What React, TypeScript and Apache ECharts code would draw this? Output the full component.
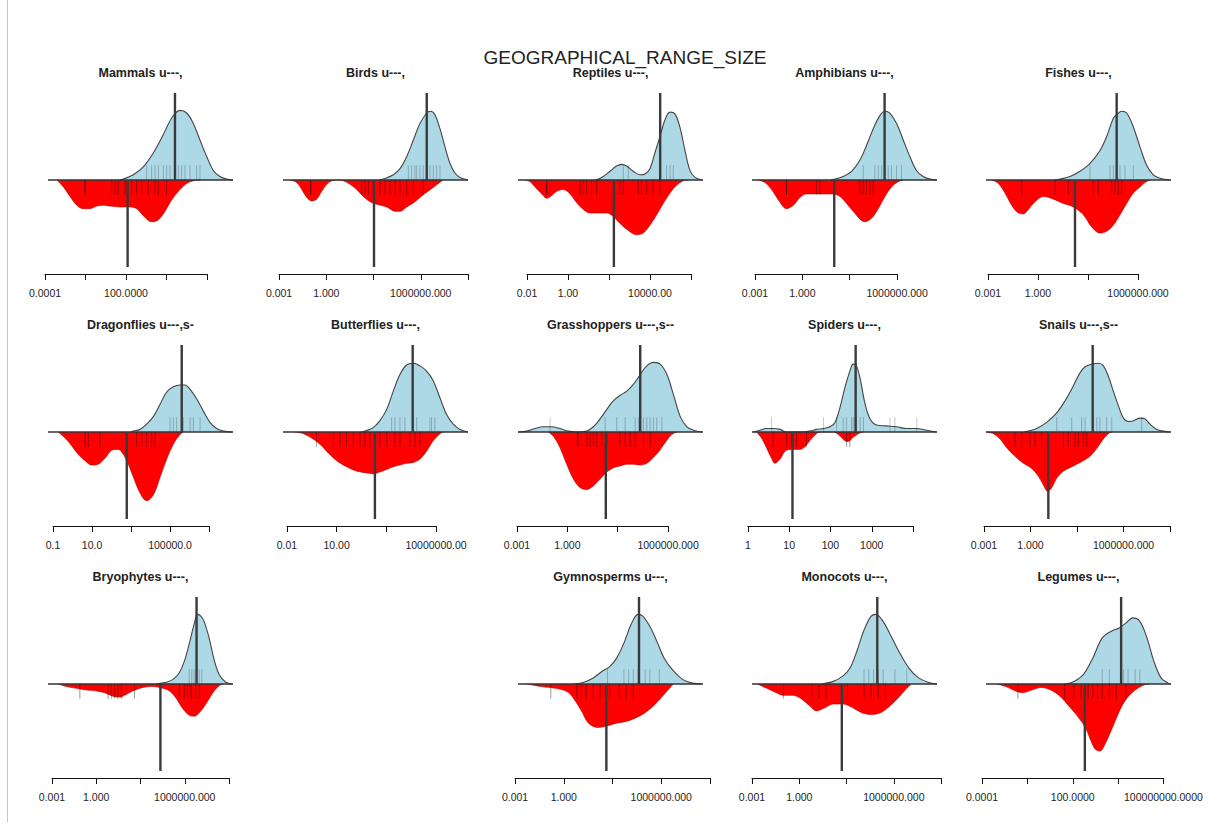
import React, { useEffect, useRef } from "react";
import * as echarts from "echarts";

type P = [number, number];

const mainTitle = "GEOGRAPHICAL_RANGE_SIZE";

// ---- density curves: [log10(range size), relative density] ----
const mammalsUpper: P[] = [[1.5,0],[1.8,0.01],[2.54,0.06],[3.28,0.15],[4.02,0.31],[4.76,0.52],[5.38,0.71],[6.0,0.8],[6.5,0.77],[6.99,0.65],[7.48,0.46],[7.98,0.27],[8.47,0.11],[8.96,0.04],[9.46,0.01],[9.93,0]];
const mammalsLower: P[] = [[-3.13,0],[-2.64,0.08],[-2.15,0.19],[-1.65,0.29],[-1.16,0.33],[-0.67,0.33],[-0.17,0.3],[0.32,0.29],[0.81,0.3],[1.56,0.31],[2.3,0.31],[2.79,0.33],[3.28,0.41],[3.9,0.48],[4.39,0.46],[4.89,0.36],[5.38,0.23],[6.0,0.11],[6.5,0.04],[6.99,0.01],[7.48,0]];
const mammalsRugUp = [3.53,3.9,4.15,4.4,4.77,5.01,5.26,5.88,6.12,6.37,6.74,7.23,7.48];
const mammalsRugLow = [-1.04,-1.04,0.94,1.19,1.43,1.93,2.42,2.79,3.16,3.65,4.15,4.4,5.01];

const birdsUpper: P[] = [[3.4,0],[3.62,0.01],[4.26,0.06],[4.68,0.13],[5.11,0.27],[5.53,0.46],[5.95,0.65],[6.38,0.77],[6.63,0.79],[6.9,0.75],[7.22,0.59],[7.54,0.38],[7.86,0.19],[8.17,0.08],[8.49,0.03],[9.0,0]];
const birdsLower: P[] = [[-2.3,0],[-1.88,0.03],[-1.56,0.11],[-1.24,0.2],[-0.93,0.24],[-0.61,0.22],[-0.29,0.13],[0.03,0.05],[0.34,0.01],[0.66,0],[1.08,0.01],[1.51,0.05],[1.93,0.11],[2.35,0.19],[2.78,0.25],[3.2,0.28],[3.84,0.31],[4.37,0.36],[4.68,0.36],[5.11,0.31],[5.63,0.25],[6.16,0.17],[6.69,0.1],[7.12,0.04],[7.43,0]];
const birdsRugUp = [5.21,5.42,5.63,5.74,5.95,6.16,6.38,6.59,6.8,7.01,7.22];
const birdsRugLow = [-0.99,-0.99,2.25,2.46,2.67,2.99,3.41,3.73,4.05,4.37,4.68,5.11,5.53,6.16];

const reptilesUpper: P[] = [[1.3,0],[1.48,0.01],[1.72,0.04],[2.05,0.1],[2.37,0.16],[2.62,0.18],[2.86,0.16],[3.19,0.1],[3.51,0.06],[3.76,0.07],[4.0,0.13],[4.24,0.31],[4.49,0.5],[4.73,0.69],[4.98,0.78],[5.22,0.76],[5.46,0.61],[5.71,0.34],[5.95,0.11],[6.2,0.03],[6.52,0]];
const reptilesLower: P[] = [[-2.1,0],[-1.85,0.02],[-1.61,0.08],[-1.28,0.16],[-1.04,0.21],[-0.8,0.18],[-0.55,0.13],[-0.23,0.11],[0.1,0.16],[0.42,0.26],[0.75,0.34],[1.07,0.38],[1.48,0.38],[1.89,0.38],[2.21,0.42],[2.54,0.5],[2.94,0.58],[3.35,0.63],[3.67,0.61],[4.0,0.52],[4.33,0.4],[4.65,0.27],[4.98,0.15],[5.3,0.06],[5.63,0.01],[5.87,0]];
const reptilesRugUp = [2.7,2.94,4.81,4.98,5.14];
const reptilesRugLow = [-1.04,-1.04,0.59,0.75,0.91,1.15,1.4,2.54,2.7,3.43,3.59,3.84,4.16,4.49];

const amphibiansUpper: P[] = [[1.8,0],[2.06,0.01],[2.59,0.04],[3.12,0.1],[3.65,0.23],[4.07,0.4],[4.49,0.59],[4.91,0.74],[5.23,0.79],[5.54,0.77],[5.97,0.65],[6.39,0.46],[6.81,0.27],[7.23,0.11],[7.65,0.04],[8.08,0.01],[8.5,0]];
const amphibiansLower: P[] = [[-2.79,0],[-2.37,0.03],[-1.95,0.11],[-1.52,0.23],[-1.0,0.33],[-0.57,0.29],[-0.15,0.2],[0.27,0.16],[0.9,0.16],[1.54,0.16],[1.96,0.16],[2.38,0.19],[2.8,0.27],[3.22,0.36],[3.65,0.45],[3.96,0.48],[4.38,0.44],[4.81,0.33],[5.23,0.19],[5.65,0.08],[6.07,0.02],[6.39,0]];
const amphibiansRugUp = [3.86,4.59,4.81,5.02,5.23,5.44,5.65,5.97,6.28];
const amphibiansRugLow = [-1.0,-1.0,0.9,1.11,3.65,3.86,4.07,4.28,4.49];

const fishesUpper: P[] = [[1.0,0],[1.32,0.01],[1.92,0.04],[2.52,0.1],[3.12,0.19],[3.72,0.34],[4.12,0.5],[4.52,0.71],[4.72,0.75],[5.02,0.79],[5.32,0.77],[5.72,0.61],[6.12,0.38],[6.52,0.17],[6.92,0.06],[7.32,0.02],[7.92,0]];
const fishesLower: P[] = [[-2.78,0],[-2.38,0.04],[-1.98,0.15],[-1.58,0.29],[-1.18,0.38],[-0.88,0.39],[-0.58,0.34],[-0.18,0.25],[0.32,0.19],[0.92,0.22],[1.52,0.27],[2.12,0.31],[2.72,0.4],[3.22,0.54],[3.72,0.61],[4.12,0.59],[4.52,0.52],[4.92,0.4],[5.32,0.27],[5.72,0.15],[6.12,0.08],[6.42,0.03],[6.72,0]];
const fishesRugUp = [3.12,4.32,4.52,4.72,4.92,5.22,5.72];
const fishesRugLow = [-0.98,-0.98,1.02,1.82,3.32,3.62,4.42,4.62,4.82,5.02];

const dragonfliesUpper: P[] = [[3.0,0],[3.12,0.01],[3.46,0.03],[3.8,0.09],[4.15,0.18],[4.49,0.32],[4.83,0.46],[5.17,0.52],[5.51,0.54],[5.77,0.54],[6.03,0.49],[6.37,0.38],[6.71,0.24],[7.05,0.11],[7.39,0.04],[7.74,0.01],[8.2,0]];
const dragonfliesLower: P[] = [[-0.73,0],[-0.38,0.07],[-0.04,0.16],[0.3,0.26],[0.64,0.33],[0.98,0.38],[1.32,0.37],[1.67,0.3],[2.01,0.21],[2.35,0.2],[2.61,0.26],[2.86,0.37],[3.12,0.52],[3.46,0.7],[3.8,0.79],[4.15,0.72],[4.49,0.52],[4.83,0.31],[5.17,0.14],[5.51,0.03],[5.68,0]];
const dragonfliesRugUp = [5.0,5.17,5.34,5.68,6.03,6.2,6.54];
const dragonfliesRugLow = [0.64,0.81,1.41,3.29,3.55,3.8,4.06,4.23];

const butterfliesUpper: P[] = [[2.5,0],[2.71,0.01],[3.21,0.05],[3.61,0.13],[4.02,0.26],[4.42,0.47],[4.82,0.66],[5.22,0.77],[5.63,0.79],[6.03,0.76],[6.43,0.7],[6.83,0.59],[7.24,0.39],[7.64,0.2],[8.04,0.09],[8.44,0.03],[8.93,0]];
const butterfliesLower: P[] = [[-1.52,0],[-1.01,0.02],[-0.51,0.07],[-0.01,0.14],[0.49,0.24],[1.0,0.33],[1.6,0.4],[2.21,0.45],[2.81,0.47],[3.21,0.48],[3.61,0.46],[4.02,0.43],[4.42,0.4],[4.82,0.38],[5.22,0.36],[5.63,0.35],[6.03,0.31],[6.43,0.22],[6.83,0.1],[7.24,0.02],[7.44,0]];
const butterfliesRugUp = [4.32,4.52,4.82,5.12,5.63,5.83,6.63,6.73,6.93];
const butterfliesRugLow = [-0.21,0.8,1.2,1.6,2.0,2.41,2.71,3.01,3.61,4.02,4.52,4.82,5.42,5.73,6.03];

const grasshoppersUpper: P[] = [[-2.92,0],[-2.42,0.01],[-1.93,0.04],[-1.43,0.06],[-0.93,0.06],[-0.44,0.04],[0.06,0.01],[0.76,0],[1.16,0.01],[1.55,0.06],[1.95,0.15],[2.35,0.26],[2.75,0.36],[3.14,0.42],[3.54,0.47],[3.94,0.55],[4.34,0.66],[4.73,0.76],[5.13,0.8],[5.53,0.78],[5.93,0.66],[6.32,0.43],[6.72,0.18],[7.12,0.06],[7.52,0.02],[8.01,0]];
const grasshoppersLower: P[] = [[-1.13,0],[-0.83,0.05],[-0.44,0.18],[-0.04,0.37],[0.36,0.54],[0.76,0.64],[1.16,0.66],[1.55,0.62],[1.95,0.54],[2.35,0.46],[2.75,0.41],[3.14,0.39],[3.54,0.37],[3.94,0.37],[4.34,0.38],[4.73,0.36],[5.03,0.31],[5.43,0.23],[5.83,0.12],[6.22,0.03],[6.52,0]];
const grasshoppersRugUp = [-1.03,2.25,2.94,3.44,4.04,4.24,4.53,4.73,4.93,5.13,5.33,5.63];
const grasshoppersRugLow = [0.62,0.62,1.16,1.35,1.55,1.75,2.05,2.35,3.14,3.44,3.74,4.04,4.53,4.93];

const spidersUpper: P[] = [[0.13,0],[0.29,0.02],[0.45,0.04],[0.61,0.04],[0.78,0.03],[0.94,0],[1.26,0],[1.5,0.01],[1.66,0.03],[1.83,0.04],[1.99,0.06],[2.11,0.11],[2.23,0.28],[2.35,0.51],[2.47,0.7],[2.55,0.78],[2.63,0.76],[2.72,0.61],[2.84,0.32],[2.96,0.15],[3.12,0.08],[3.36,0.07],[3.6,0.06],[3.85,0.04],[4.09,0.04],[4.33,0.02],[4.57,0]];
const spidersLower: P[] = [[0.21,0],[0.33,0.07],[0.45,0.18],[0.57,0.3],[0.65,0.36],[0.78,0.31],[0.9,0.22],[1.02,0.2],[1.14,0.2],[1.26,0.2],[1.38,0.17],[1.5,0.1],[1.66,0.02],[1.75,0],[2.07,0],[2.19,0.03],[2.35,0.1],[2.43,0.11],[2.55,0.06],[2.72,0.01],[2.8,0]];
const spidersRugUp = [0.57,1.83,2.15,2.31,2.39,2.51,2.55,2.59,2.63,2.72,2.8,3.44,3.56,4.09];
const spidersRugLow = [0.61,0.94,1.06,1.18,1.42,2.39,2.47];

const snailsUpper: P[] = [[-0.4,0],[-0.14,0.01],[0.4,0.04],[1.04,0.11],[1.69,0.22],[2.23,0.36],[2.76,0.53],[3.19,0.68],[3.52,0.75],[3.95,0.78],[4.38,0.79],[4.7,0.76],[5.02,0.64],[5.34,0.47],[5.67,0.3],[5.99,0.16],[6.31,0.12],[6.63,0.13],[7.06,0.16],[7.39,0.15],[7.71,0.09],[8.14,0.03],[8.57,0.01],[9.0,0]];
const snailsLower: P[] = [[-2.83,0],[-2.4,0.02],[-1.97,0.08],[-1.54,0.18],[-1.0,0.28],[-0.46,0.36],[0.08,0.42],[0.51,0.51],[0.83,0.61],[1.09,0.68],[1.37,0.64],[1.69,0.53],[2.12,0.45],[2.55,0.41],[2.98,0.37],[3.41,0.33],[3.84,0.28],[4.27,0.19],[4.7,0.08],[5.02,0.02],[5.24,0]];
const snailsRugUp = [1.69,2.66,3.3,3.52,4.05,4.27,4.48,4.91,5.24,7.17];
const snailsRugLow = [-1.0,-0.57,-0.03,0.29,0.72,2.12,2.44,2.87,3.09,3.41,3.62];

const bryophytesUpper: P[] = [[4.06,0],[4.73,0.02],[5.18,0.05],[5.63,0.13],[5.97,0.26],[6.3,0.46],[6.64,0.69],[6.87,0.8],[7.09,0.78],[7.31,0.72],[7.65,0.53],[7.99,0.28],[8.33,0.11],[8.78,0.02],[9.22,0]];
const bryophytesLower: P[] = [[-2.57,0],[-2.01,0.03],[-1.34,0.05],[-0.66,0.07],[0.01,0.08],[0.57,0.1],[1.13,0.14],[1.58,0.15],[2.03,0.12],[2.48,0.08],[3.16,0.04],[3.83,0.03],[4.51,0.05],[4.96,0.08],[5.4,0.16],[5.85,0.28],[6.3,0.36],[6.64,0.37],[7.09,0.31],[7.54,0.2],[7.99,0.08],[8.33,0.02],[8.55,0]];
const bryophytesRugUp = [6.3,6.48,6.64,6.8,6.98,7.16];
const bryophytesRugLow = [-1.11,0.8,1.02,1.25,1.47,1.7,2.6,5.63,5.97,6.19,6.42,6.75,6.98];

const gymnospermsUpper: P[] = [[0.65,0],[1.23,0.02],[1.81,0.07],[2.39,0.15],[2.83,0.2],[3.26,0.3],[3.7,0.47],[4.13,0.68],[4.57,0.8],[4.86,0.78],[5.3,0.66],[5.73,0.49],[6.17,0.3],[6.75,0.15],[7.33,0.05],[7.91,0.01],[8.49,0]];
const gymnospermsLower: P[] = [[-2.25,0],[-1.38,0.03],[-0.51,0.05],[0.22,0.09],[0.65,0.18],[1.09,0.31],[1.52,0.45],[2.1,0.5],[2.69,0.48],[3.26,0.45],[3.84,0.43],[4.43,0.39],[5.01,0.33],[5.58,0.24],[6.17,0.12],[6.6,0.03],[6.75,0]];
const gymnospermsRugUp = [2.69,3.7,3.99,4.28,4.57,5.01,5.3,5.88];
const gymnospermsRugLow = [-0.8,0.8,1.09,1.38,1.81,2.24,2.83,3.41,3.84,4.28];

const monocotsUpper: P[] = [[1.4,0],[2.16,0.03],[2.76,0.09],[3.21,0.18],[3.66,0.38],[4.11,0.62],[4.56,0.78],[4.86,0.8],[5.32,0.72],[5.77,0.57],[6.37,0.36],[6.97,0.18],[7.57,0.07],[8.17,0.02],[8.74,0]];
const monocotsLower: P[] = [[-2.66,0],[-2.06,0.05],[-1.46,0.1],[-1.01,0.13],[-0.4,0.13],[0.2,0.18],[0.65,0.25],[1.1,0.31],[1.55,0.28],[2.16,0.23],[2.76,0.23],[3.36,0.27],[3.96,0.33],[4.56,0.35],[5.16,0.33],[5.77,0.25],[6.37,0.14],[6.82,0.05],[7.12,0]];
const monocotsRugUp = [4.11,4.41,4.71,5.01,5.32,6.07,6.82];
const monocotsRugLow = [-1.01,0.8,1.25,1.7,3.06,4.11,4.56,5.01,5.47];

const legumesUpper: P[] = [[1.46,0],[2.08,0.03],[2.71,0.11],[3.33,0.3],[3.95,0.53],[4.58,0.61],[5.04,0.64],[5.51,0.7],[5.97,0.76],[6.44,0.72],[6.91,0.53],[7.37,0.26],[7.84,0.07],[8.31,0.01],[8.5,0]];
const legumesLower: P[] = [[-3.04,0],[-2.42,0.03],[-1.8,0.08],[-1.33,0.1],[-0.71,0.07],[-0.09,0.04],[0.54,0.07],[1.15,0.14],[1.77,0.26],[2.4,0.39],[2.86,0.51],[3.17,0.64],[3.49,0.75],[3.8,0.77],[4.11,0.7],[4.58,0.52],[5.04,0.33],[5.51,0.18],[6.13,0.07],[6.75,0.01],[7.06,0]];
const legumesRugUp = [3.95,4.42,5.35,5.66,6.13,6.44];
const legumesRugLow = [-1.63,1.46,2.08,2.55,3.02,3.33,3.64,3.95,4.42,4.88,5.51];

// medians [upper group, lower group]
const medians: Record<string, [number, number]> = {
  mammals: [5.63, 2.12], birds: [6.38, 3.03], reptiles: [4.5, 2.24], amphibians: [5.21, 2.02], fishes: [4.72, 2.22],
  dragonflies: [5.6, 2.78], butterflies: [5.59, 3.31], grasshoppers: [4.34, 2.29], spiders: [2.61, 1.08], snails: [4.01, 1.15],
  bryophytes: [6.8, 4.35], gymnosperms: [4.63, 2.62], monocots: [4.95, 2.7], legumes: [5.2, 2.8],
};

// ---- axis ticks (log10) and labels ----
const ticksA = [-4, -1, 2, 5, 8];
const labelsMammals = ["0.0001", "", "100.0000", "", ""];
const labelsLegumes = ["0.0001", "", "100.0000", "", "100000000.0000"];
const ticksB = [-3, 0, 3, 6, 9];
const labelsB = ["0.001", "1.000", "", "1000000.000", ""];
const ticksC = [-3, 0, 3, 6];
const labelsC = ["0.001", "1.000", "", "1000000.000"];
const ticksReptiles = [-2, 0, 2, 4, 6];
const labelsReptiles = ["0.01", "1.00", "", "10000.00", ""];
const ticksDragonflies = [-1, 1, 3, 5, 7];
const labelsDragonflies = ["0.1", "10.0", "", "100000.0", ""];
const ticksButterflies = [-2, 1, 4, 7];
const labelsButterflies = ["0.01", "10.00", "", "10000000.00"];
const ticksSpiders = [0, 1, 2, 3, 4];
const labelsSpiders = ["1", "10", "100", "1000", ""];

type Panel = {
  key: string; title: string; row: number; col: number; xmin: number; xmax: number;
  upper: P[]; lower: P[]; rugUp: number[]; rugLow: number[]; ticks: number[]; labels: string[];
};

const panels: Panel[] = [
  { key: "mammals", title: "Mammals u---,", row: 0, col: 0, xmin: -3.78, xmax: 9.93, upper: mammalsUpper, lower: mammalsLower, rugUp: mammalsRugUp, rugLow: mammalsRugLow, ticks: ticksA, labels: labelsMammals },
  { key: "birds", title: "Birds u---,", row: 0, col: 1, xmin: -2.75, xmax: 9.0, upper: birdsUpper, lower: birdsLower, rugUp: birdsRugUp, rugLow: birdsRugLow, ticks: ticksB, labels: labelsB },
  { key: "reptiles", title: "Reptiles u---,", row: 0, col: 2, xmin: -2.44, xmax: 6.59, upper: reptilesUpper, lower: reptilesLower, rugUp: reptilesRugUp, rugLow: reptilesRugLow, ticks: ticksReptiles, labels: labelsReptiles },
  { key: "amphibians", title: "Amphibians u---,", row: 0, col: 3, xmin: -3.19, xmax: 8.53, upper: amphibiansUpper, lower: amphibiansLower, rugUp: amphibiansRugUp, rugLow: amphibiansRugLow, ticks: ticksC, labels: labelsC },
  { key: "fishes", title: "Fishes u---,", row: 0, col: 4, xmin: -3.12, xmax: 7.98, upper: fishesUpper, lower: fishesLower, rugUp: fishesRugUp, rugLow: fishesRugLow, ticks: ticksC, labels: labelsC },
  { key: "dragonflies", title: "Dragonflies u---,s-", row: 1, col: 0, xmin: -1.26, xmax: 8.23, upper: dragonfliesUpper, lower: dragonfliesLower, rugUp: dragonfliesRugUp, rugLow: dragonfliesRugLow, ticks: ticksDragonflies, labels: labelsDragonflies },
  { key: "butterflies", title: "Butterflies u---,", row: 1, col: 1, xmin: -2.24, xmax: 8.93, upper: butterfliesUpper, lower: butterfliesLower, rugUp: butterfliesRugUp, rugLow: butterfliesRugLow, ticks: ticksButterflies, labels: labelsButterflies },
  { key: "grasshoppers", title: "Grasshoppers u---,s--", row: 1, col: 2, xmin: -2.94, xmax: 8.08, upper: grasshoppersUpper, lower: grasshoppersLower, rugUp: grasshoppersRugUp, rugLow: grasshoppersRugLow, ticks: ticksC, labels: labelsC },
  { key: "spiders", title: "Spiders u---,", row: 1, col: 3, xmin: 0.1, xmax: 4.58, upper: spidersUpper, lower: spidersLower, rugUp: spidersRugUp, rugLow: spidersRugLow, ticks: ticksSpiders, labels: labelsSpiders },
  { key: "snails", title: "Snails u---,s--", row: 1, col: 4, xmin: -2.87, xmax: 9.06, upper: snailsUpper, lower: snailsLower, rugUp: snailsRugUp, rugLow: snailsRugLow, ticks: ticksB, labels: labelsB },
  { key: "bryophytes", title: "Bryophytes u---,", row: 2, col: 0, xmin: -3.27, xmax: 9.27, upper: bryophytesUpper, lower: bryophytesLower, rugUp: bryophytesRugUp, rugLow: bryophytesRugLow, ticks: ticksB, labels: labelsB },
  { key: "gymnosperms", title: "Gymnosperms u---,", row: 2, col: 2, xmin: -2.82, xmax: 8.57, upper: gymnospermsUpper, lower: gymnospermsLower, rugUp: gymnospermsRugUp, rugLow: gymnospermsRugLow, ticks: ticksB, labels: labelsB },
  { key: "monocots", title: "Monocots u---,", row: 2, col: 3, xmin: -3.0, xmax: 8.74, upper: monocotsUpper, lower: monocotsLower, rugUp: monocotsRugUp, rugLow: monocotsRugLow, ticks: ticksB, labels: labelsB },
  { key: "legumes", title: "Legumes u---,", row: 2, col: 4, xmin: -3.74, xmax: 8.5, upper: legumesUpper, lower: legumesLower, rugUp: legumesRugUp, rugLow: legumesRugLow, ticks: ticksA, labels: labelsLegumes },
];

// ---- layout ----
const FONT = "'Liberation Sans', Arial, Helvetica, sans-serif";
const colLeft = [48, 283, 518, 752, 986];
const plotW = 185;
const rowBase = [180, 432, 684];
const halfH = 87;
const axisOffset = 94;
const rugLen = 0.17;

function rugSeries(xs: number[], up: boolean, xa: number, ya: number) {
  return {
    type: "custom",
    xAxisIndex: xa,
    yAxisIndex: ya,
    silent: true,
    z: 3,
    clip: true,
    data: xs.map((x) => [x, 0]),
    encode: { x: 0, y: 1 },
    renderItem: (_p: any, api: any) => {
      const x = api.value(0);
      const a = api.coord([x, 0]);
      const b = api.coord([x, up ? rugLen : -rugLen]);
      return {
        type: "line",
        shape: { x1: a[0], y1: a[1], x2: b[0], y2: b[1] },
        style: { stroke: up ? "rgba(0,0,0,0.22)" : "rgba(0,0,0,0.4)", lineWidth: 1 },
      };
    },
  };
}

function buildOption() {
  const grid: any[] = [];
  const xAxis: any[] = [];
  const yAxis: any[] = [];
  const series: any[] = [];
  const graphic: any[] = [];

  graphic.push({
    type: "line",
    shape: { x1: 7.5, y1: 0, x2: 7.5, y2: 822 },
    style: { stroke: "#c8c8c8", lineWidth: 1 },
    silent: true,
  });
  graphic.push({
    type: "text",
    x: 625,
    y: 57,
    style: { text: mainTitle, fontSize: 19, fontFamily: FONT, fill: "#222", textAlign: "center", textVerticalAlign: "middle" },
  });

  panels.forEach((p) => {
    const L = colLeft[p.col];
    const yb = rowBase[p.row];
    const gi = grid.length;
    grid.push({ left: L, top: yb - halfH, width: plotW, height: 2 * halfH });
    xAxis.push({ type: "value", gridIndex: gi, min: p.xmin, max: p.xmax, show: false });
    yAxis.push({ type: "value", gridIndex: gi, min: -1, max: 1, show: false });
    const xa = xAxis.length - 1;
    const ya = yAxis.length - 1;

    graphic.push({
      type: "text",
      x: L + plotW / 2,
      y: yb - 107,
      style: { text: p.title, fontSize: 12.5, fontWeight: "bold", fontFamily: FONT, fill: "#222", textAlign: "center", textVerticalAlign: "middle" },
    });

    series.push({
      type: "line", xAxisIndex: xa, yAxisIndex: ya, data: p.lower.map(([x, d]) => [x, -d]),
      smooth: 0.35, symbol: "none", silent: true, z: 2,
      lineStyle: { color: "#b00000", width: 0.6 }, areaStyle: { color: "#ff0000", opacity: 1 },
    });
    series.push({
      type: "line", xAxisIndex: xa, yAxisIndex: ya, data: p.upper,
      smooth: 0.35, symbol: "none", silent: true, z: 2,
      lineStyle: { color: "#444", width: 1.1 }, areaStyle: { color: "#add8e6", opacity: 1 },
    });
    series.push(rugSeries(p.rugUp, true, xa, ya));
    series.push(rugSeries(p.rugLow, false, xa, ya));
    series.push({
      type: "line", xAxisIndex: xa, yAxisIndex: ya, data: [[p.xmin, 0], [p.xmax, 0]],
      symbol: "none", silent: true, z: 4, lineStyle: { color: "#333", width: 1.6 },
    });
    const [mu, ml] = medians[p.key];
    series.push({
      type: "line", xAxisIndex: xa, yAxisIndex: ya, data: [[mu, 0], [mu, 1]],
      symbol: "none", silent: true, z: 5, lineStyle: { color: "#3a3a3a", width: 2.4 },
    });
    series.push({
      type: "line", xAxisIndex: xa, yAxisIndex: ya, data: [[ml, 0], [ml, -1]],
      symbol: "none", silent: true, z: 5, lineStyle: { color: "#3a3a3a", width: 2.4 },
    });

    // bottom axis (spans first to last tick, as in R)
    const scale = plotW / (p.xmax - p.xmin);
    const t0 = p.ticks[0];
    const tN = p.ticks[p.ticks.length - 1];
    const aL = L + (t0 - p.xmin) * scale;
    const aW = (tN - t0) * scale;
    const ay = yb + axisOffset;
    const gj = grid.length;
    grid.push({ left: aL, top: ay - 10, width: aW, height: 10 });
    const ticks = p.ticks;
    const labels = p.labels;
    xAxis.push({
      type: "value", gridIndex: gj, min: t0, max: tN, position: "bottom",
      axisLine: { show: true, lineStyle: { color: "#111", width: 1 } },
      axisTick: { show: true, inside: false, length: 6, customValues: ticks, lineStyle: { color: "#111", width: 1 } },
      axisLabel: {
        show: true, customValues: ticks, margin: 13, fontSize: 10.5, fontFamily: FONT, color: "#222",
        formatter: (v: number) => {
          const i = ticks.findIndex((t) => Math.abs(t - v) < 1e-6);
          return i >= 0 ? labels[i] : "";
        },
      },
      splitLine: { show: false },
    });
    yAxis.push({ type: "value", gridIndex: gj, show: false, min: 0, max: 1 });
  });

  return {
    animation: false,
    backgroundColor: "#ffffff",
    grid,
    xAxis,
    yAxis,
    series,
    graphic,
  };
}

export default function App() {
  const ref = useRef<HTMLDivElement>(null);
  useEffect(() => {
    if (!ref.current) return;
    const chart = echarts.init(ref.current, undefined, { renderer: "svg" });
    chart.setOption(buildOption() as any);
    return () => chart.dispose();
  }, []);
  return (
    <div
      ref={ref}
      style={{ position: "fixed", left: 0, top: 0, width: 1217, height: 832, background: "#fff" }}
    />
  );
}
